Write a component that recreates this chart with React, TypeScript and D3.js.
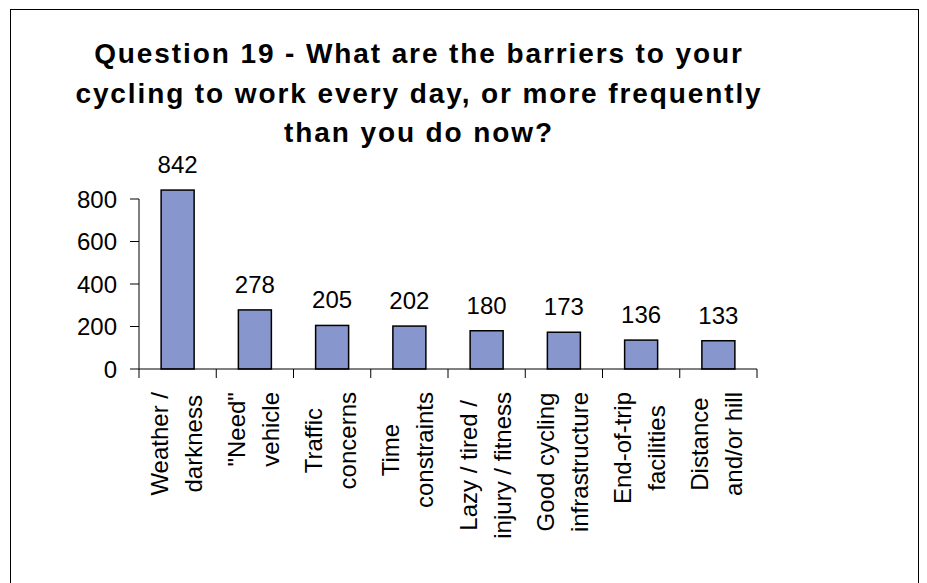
import React from "react";
import * as d3 from "d3";

const titleLines = [
  "Question 19 - What are the barriers to your",
  "cycling to work every day, or more frequently",
  "than you do now?",
];
const categoryLines: string[][] = [
  ["Weather /", "darkness"],
  ['"Need"', "vehicle"],
  ["Traffic", "concerns"],
  ["Time", "constraints"],
  ["Lazy / tired /", "injury / fitness"],
  ["Good cycling", "infrastructure"],
  ["End-of-trip", "facilities"],
  ["Distance", "and/or hill"],
];
const values = [842, 278, 205, 202, 180, 173, 136, 133];
const yTicks = [0, 200, 400, 600, 800];

const W = 927;
const H = 583;
const FONT = "'Liberation Sans', Arial, Helvetica, sans-serif";
const LABEL_SIZE = 24;

function measure(text: string, size: number, weight = "normal"): number {
  const c = document.createElement("canvas").getContext("2d");
  if (!c) return text.length * size * 0.5;
  c.font = `${weight} ${size}px ${FONT}`;
  return c.measureText(text).width;
}

export default function App() {
  const keys = categoryLines.map((l) => l.join(" "));
  const x = d3.scaleBand<string>().domain(keys).range([139, 757]).padding(0);
  const y = d3.scaleLinear().domain([0, 800]).range([369, 199]);
  const bw = 33;
  const off = (x.bandwidth() - bw) / 2;
  const edges = [...keys.map((k) => x(k) as number), 757];

  return (
    <svg
      width={W}
      height={H}
      style={{ position: "absolute", left: 0, top: 0, background: "#fff" }}
      fontFamily={FONT}
    >
      <rect x={10.5} y={9.5} width={908} height={620} fill="#fff" stroke="#000" strokeWidth={1} />
      {titleLines.map((t, i) => (
        <text
          key={i}
          x={419}
          y={63 + i * 39.5}
          textAnchor="middle"
          fontSize={28}
          fontWeight="bold"
          letterSpacing={1.9}
          fill="#000"
        >
          {t}
        </text>
      ))}
      {/* bars */}
      {values.map((v, i) => {
        const bx = (x(keys[i]) as number) + off;
        return (
          <g key={i}>
            <rect
              x={bx}
              y={y(v)}
              width={bw}
              height={y(0) - y(v)}
              fill="#8797CD"
              stroke="#000"
              strokeWidth={1.5}
            />
            <text
              x={bx + bw / 2}
              y={y(v) - 17}
              textAnchor="middle"
              fontSize={LABEL_SIZE}
              fill="#000"
            >
              {v}
            </text>
          </g>
        );
      })}
      {/* y axis */}
      <line x1={139} x2={139} y1={y(800)} y2={y(0)} stroke="#000" strokeWidth={1} />
      {yTicks.map((t) => (
        <g key={t}>
          <line x1={130} x2={139} y1={y(t)} y2={y(t)} stroke="#000" strokeWidth={1} />
          <text x={117} y={y(t) + 8.5} textAnchor="end" fontSize={LABEL_SIZE} fill="#000">
            {t}
          </text>
        </g>
      ))}
      {/* x axis */}
      <line x1={139} x2={757} y1={y(0)} y2={y(0)} stroke="#000" strokeWidth={1} />
      {edges.map((e, i) => (
        <line key={i} x1={e} x2={e} y1={y(0)} y2={y(0) + 9} stroke="#000" strokeWidth={1} />
      ))}
      {/* category labels */}
      {categoryLines.map((lines, i) => {
        const cx = (x(keys[i]) as number) + x.bandwidth() / 2;
        const maxW = Math.max(...lines.map((l) => measure(l, LABEL_SIZE)));
        const cy = 392 + maxW / 2;
        return (
          <g key={i}>
            {lines.map((l, j) => (
              <text
                key={j}
                transform={`translate(${cx - 10 + j * 34},${cy}) rotate(-90)`}
                textAnchor="middle"
                fontSize={LABEL_SIZE}
                fill="#000"
              >
                {l}
              </text>
            ))}
          </g>
        );
      })}
    </svg>
  );
}
